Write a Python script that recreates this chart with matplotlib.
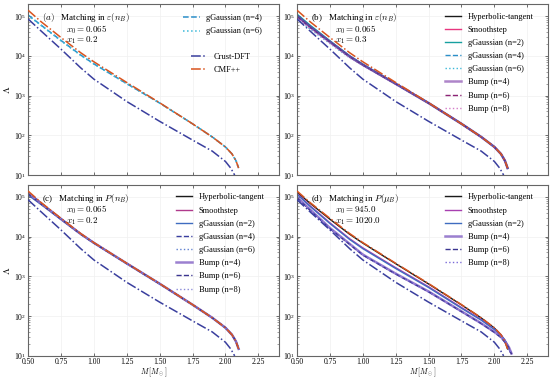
import matplotlib
matplotlib.use("Agg")
import matplotlib.pyplot as plt

plt.rcParams['font.family'] = ['Liberation Serif', 'DejaVu Serif']
plt.rcParams['mathtext.fontset'] = 'cm'

# mass grids [M_sun]
m_main = [0.5, 0.6, 0.75, 0.9, 1.0, 1.25, 1.5, 1.75, 1.9, 2.0, 2.05, 2.08, 2.1]
m_dft = [0.5, 0.6, 0.75, 0.9, 1.0, 1.25, 1.5, 1.75, 1.9, 2.0, 2.04, 2.07]
m_long = [0.5, 0.6, 0.75, 0.9, 1.0, 1.25, 1.5, 1.75, 1.9, 2.0, 2.05, 2.08, 2.1, 2.12]
m_bump = [0.5, 0.6, 0.75, 0.9, 1.0, 1.25, 1.5, 1.75, 1.9, 2.0, 2.05, 2.08, 2.11, 2.13]

# reference EOS curves
crust_dft = [85000, 42000, 14800, 5000, 2600, 710, 225, 76, 40, 22, 15, 10]
cmf_pp = [141000, 72000, 29000, 12000, 7100, 2140, 660, 195, 91, 51, 34, 23, 15]

# (a) matching in eps(n_B), x0=0.065, x1=0.2
a_gg4 = [107000, 59000, 24500, 10500, 6300, 2000, 650, 195, 91, 51, 34, 23, 15]
a_gg6 = [105000, 58000, 24000, 10300, 6250, 1990, 648, 195, 91, 51, 34, 23, 15]

# (b) matching in eps(n_B), x0=0.065, x1=0.3
b_tanh = [105000, 55000, 23000, 9800, 6000, 1990, 650, 195, 91, 51, 34, 23, 15]
b_smooth = [100000, 52500, 22400, 9550, 5900, 1970, 648, 195, 91, 51, 34, 23, 15]
b_gg2 = [112000, 59000, 24000, 10000, 6200, 2000, 650, 195, 91, 51, 34, 23, 15]
b_gg4 = [95500, 51000, 21900, 9300, 5900, 1960, 647, 195, 91, 51, 34, 23, 15]
b_gg6 = [85000, 47000, 20400, 8900, 5750, 1950, 645, 195, 91, 51, 34, 23, 15]
b_bump4 = [100000, 53000, 22500, 9600, 5950, 1975, 648, 195, 91, 51, 34, 23, 15]
b_bump6 = [98000, 52000, 22200, 9500, 5900, 1970, 647, 195, 91, 51, 34, 23, 15]
b_bump8 = [91000, 49000, 21000, 9100, 5800, 1955, 646, 195, 91, 51, 34, 23, 15]

# (c) matching in P(n_B), x0=0.065, x1=0.2
c_tanh = [132000, 70000, 28500, 11800, 7000, 2120, 655, 194, 91, 51, 34, 23, 15]
c_smooth = [128000, 69000, 28300, 11800, 7000, 2120, 655, 194, 91, 51, 34, 23, 15]
c_gg2 = [112000, 64000, 27000, 11500, 6900, 2100, 650, 193, 90, 51, 34, 23, 15]
c_gg4 = [118000, 66000, 27500, 11600, 6950, 2110, 652, 194, 90, 51, 34, 23, 15]
c_gg6 = [122000, 67000, 27800, 11700, 6950, 2110, 653, 194, 91, 51, 34, 23, 15]
c_bump4 = [126000, 68000, 28000, 11700, 7000, 2120, 655, 194, 91, 51, 34, 23, 15]
c_bump6 = [120000, 66500, 27700, 11600, 6950, 2110, 652, 194, 91, 51, 34, 23, 15]
c_bump8 = [124000, 67500, 27900, 11700, 6980, 2115, 654, 194, 91, 51, 34, 23, 15]

# (d) matching in P(mu_B), x0=945, x1=1020
d_tanh = [132000, 69000, 27500, 11500, 6900, 2090, 645, 192, 90, 50, 34, 23, 15]
d_smooth = [122000, 60000, 22400, 8900, 5250, 1660, 550, 165, 82, 47, 34, 25, 19, 12.6]
d_gg2 = [117000, 57500, 21400, 8500, 5000, 1580, 525, 158, 79, 46, 33, 25, 19, 12.6]
d_bump4 = [100000, 48000, 16600, 6600, 3550, 1175, 417, 132, 66, 40, 30, 23, 16.6, 11.5]
d_bump6 = [95500, 46000, 16000, 6400, 3450, 1150, 410, 130, 65, 39, 29, 22, 16, 11]
d_bump8 = [98000, 47000, 16300, 6500, 3500, 1160, 414, 131, 66, 40, 30, 23, 16, 11.5]

c_dft = '#3a3f9e'
c_cmf = '#d9541e'

fig, axs = plt.subplots(2, 2, figsize=(5.5, 3.79), dpi=100, sharex=True)
fig.subplots_adjust(left=0.051, right=0.997, bottom=0.061, top=0.989,
                    wspace=0.07, hspace=0.058)


def refs(ax):
    ax.plot(m_dft, crust_dft, color=c_dft, ls='-.', lw=1.1, label='Crust-DFT', zorder=4)
    ax.plot(m_main, cmf_pp, color=c_cmf, ls='-.', lw=1.1, label='CMF++', zorder=4)


def style(ax, title, x0, x1):
    ax.set_yscale('log')
    ax.set_xlim(0.5, 2.41)
    ax.set_ylim(10, 2e5)
    ax.tick_params(which='both', direction='in', top=True, right=True,
                   labelsize=5.5, color='#555555', pad=1.5)
    ax.tick_params(which='major', length=2.5, width=0.6)
    ax.tick_params(which='minor', length=1.2, width=0.4)
    ax.set_xticks([0.5, 0.75, 1.0, 1.25, 1.5, 1.75, 2.0, 2.25])
    ax.grid(True, which='major', color='#f0f0f0', lw=0.5)
    ax.set_axisbelow(True)
    for s in ax.spines.values():
        s.set_color('#666666')
        s.set_linewidth(0.8)
    ax.text(0.055, 0.96, title, transform=ax.transAxes, fontsize=6.5, va='top')
    ax.text(0.15, 0.89, x0, transform=ax.transAxes, fontsize=6.5, va='top')
    ax.text(0.15, 0.82, x1, transform=ax.transAxes, fontsize=6.5, va='top')


leg_kw = dict(frameon=False, fontsize=6, handlelength=2.0, labelspacing=0.62,
              handletextpad=0.8, borderaxespad=0.3)

# (a)
ax = axs[0, 0]
la, = ax.plot(m_main, a_gg4, color='#2c8fc9', ls='--', lw=1.1, label='gGaussian (n=4)')
lb, = ax.plot(m_main, a_gg6, color='#3bb8d8', ls=':', lw=1.1, label='gGaussian (n=6)')
refs(ax)
style(ax, r'$(a)$   Matching in $\varepsilon(n_B)$', r'$x_0=0.065$', r'$x_1=0.2$')
l1 = ax.legend(handles=[la, lb], loc='upper right', bbox_to_anchor=(0.955, 0.975), **leg_kw)
ax.add_artist(l1)
h = ax.get_lines()[2:4]
ax.legend(handles=h, loc='upper right', bbox_to_anchor=(0.91, 0.75), **leg_kw)

# (b)
ax = axs[0, 1]
ax.plot(m_main, b_tanh, color='#1a1a1a', lw=1.0, label='Hyperbolic-tangent')
ax.plot(m_main, b_smooth, color='#e8367f', lw=1.0, label='Smoothstep')
ax.plot(m_main, b_gg2, color='#17a0a0', lw=1.0, label='gGaussian (n=2)')
ax.plot(m_main, b_gg4, color='#2c8fc9', ls='--', lw=1.0, label='gGaussian (n=4)')
ax.plot(m_main, b_gg6, color='#3bb8d8', ls=':', lw=1.0, label='gGaussian (n=6)')
ax.plot(m_main, b_bump4, color='#a070c0', lw=1.8, alpha=0.85, label='Bump (n=4)')
ax.plot(m_main, b_bump6, color='#8c2375', ls='--', lw=1.0, label='Bump (n=6)')
ax.plot(m_main, b_bump8, color='#d57cc8', ls=':', lw=1.0, label='Bump (n=8)')
hb = ax.get_lines()
ax.plot(m_main, b_tanh, color='#3a3f9e', lw=1.6, alpha=0.6)
refs(ax)
style(ax, r'(b)   Matching in $\varepsilon(n_B)$', r'$x_0=0.065$', r'$x_1=0.3$')
ax.legend(handles=hb, loc='upper right', bbox_to_anchor=(0.965, 0.985), **leg_kw)

# (c)
ax = axs[1, 0]
ax.plot(m_main, c_tanh, color='#1a1a1a', lw=1.0, label='Hyperbolic-tangent')
ax.plot(m_main, c_smooth, color='#b03a8c', lw=1.0, label='Smoothstep')
ax.plot(m_main, c_gg2, color='#3f6cc0', lw=1.0, label='gGaussian (n=2)')
ax.plot(m_main, c_gg4, color='#3a3fa0', ls='--', lw=1.0, label='gGaussian (n=4)')
ax.plot(m_main, c_gg6, color='#5f80d0', ls=':', lw=1.0, label='gGaussian (n=6)')
ax.plot(m_main, c_bump4, color='#8a6ac8', lw=1.8, alpha=0.85, label='Bump (n=4)')
ax.plot(m_main, c_bump6, color='#3b3590', ls='--', lw=1.0, label='Bump (n=6)')
ax.plot(m_main, c_bump8, color='#8a8ad8', ls=':', lw=1.0, label='Bump (n=8)')
hc = ax.get_lines()
refs(ax)
style(ax, r'(c)   Matching in $P(n_B)$', r'$x_0=0.065$', r'$x_1=0.2$')
ax.legend(handles=hc, loc='upper right', bbox_to_anchor=(0.965, 0.985), **leg_kw)
ax.set_ylabel(r'$\Lambda$', fontsize=7, labelpad=1)
ax.set_xlabel(r'$M\,[M_\odot]$', fontsize=5.5, labelpad=-0.5)
axs[0, 0].set_ylabel(r'$\Lambda$', fontsize=7, labelpad=1)

# (d)
ax = axs[1, 1]
ax.plot(m_main, d_tanh, color='#1a1a1a', lw=1.0, label='Hyperbolic-tangent')
ax.plot(m_long, d_smooth, color='#a83fb0', lw=1.0, label='Smoothstep')
ax.plot(m_long, d_gg2, color='#3f6cc0', lw=1.0, label='gGaussian (n=2)')
ax.plot(m_bump, d_bump4, color='#8a6ac8', lw=1.8, alpha=0.85, label='Bump (n=4)')
ax.plot(m_bump, d_bump6, color='#3b3590', ls='--', lw=1.0, label='Bump (n=6)')
ax.plot(m_bump, d_bump8, color='#7a6ad8', ls=':', lw=1.0, label='Bump (n=8)')
hd = ax.get_lines()
refs(ax)
style(ax, r'(d)   Matching in $P(\mu_B)$', r'$x_0=945.0$', r'$x_1=1020.0$')
ax.legend(handles=hd, loc='upper right', bbox_to_anchor=(0.965, 0.985), **leg_kw)
ax.set_xlabel(r'$M\,[M_\odot]$', fontsize=5.5, labelpad=-0.5)

for a in axs[0]:
    a.tick_params(labelbottom=False)

fig.savefig('out.png', dpi=100)
